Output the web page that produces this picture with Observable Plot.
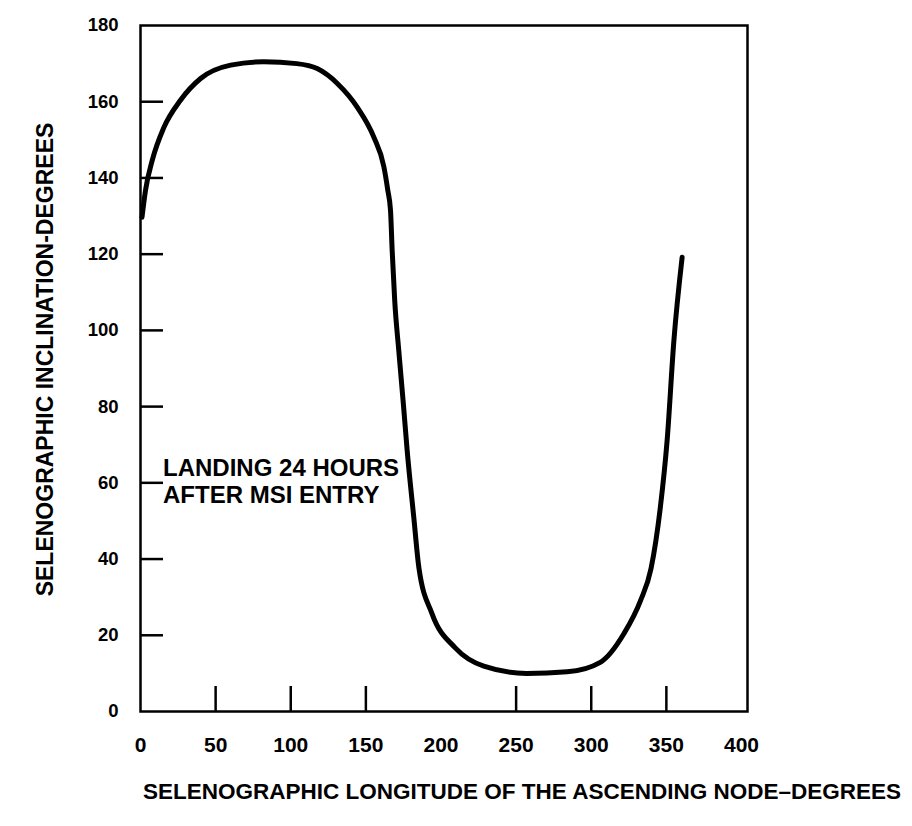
<!DOCTYPE html>
<html>
<head>
<meta charset="utf-8">
<script src="https://cdn.jsdelivr.net/npm/d3@7"></script>
<script src="https://cdn.jsdelivr.net/npm/@observablehq/plot@0.6"></script>
<style>
  html, body { margin: 0; padding: 0; background: #fff; }
  #chart svg { display: block; }
</style>
</head>
<body>
<div id="chart"></div>
<script>
// Selenographic longitude of the ascending node (degrees)
const longitude = [1, 3.3, 7.8, 15.5, 26.6, 40, 60, 82, 104, 117.6, 131, 144.2, 155.3, 162, 164.5, 166.4, 167.5, 169.2, 171.9, 175, 177.5, 181.9, 185.3, 194, 209.5, 228.5, 257, 284, 306, 321.7, 332.8, 339.8, 346, 350.5, 355, 360.5];
// Selenographic inclination (degrees)
const inclination = [129.7, 136.7, 144.6, 153.2, 160.4, 166.1, 169.6, 170.5, 170, 168.7, 164.8, 158.6, 150.7, 142.9, 137, 131.5, 121, 107.8, 94.7, 80.5, 68.4, 50.9, 37.7, 25.7, 16.7, 11.9, 10, 10.4, 12.9, 20.4, 29.1, 37.5, 53.6, 71.1, 97.3, 119.2];

const xTickLabels = [0, 50, 100, 150, 200, 250, 300, 350, 400];
const yTickLabels = [0, 20, 40, 60, 80, 100, 120, 140, 160, 180];
const xTickMarks = [50, 100, 150, 250, 300, 350];
const yTickMarks = [20, 40, 60, 80, 100, 120, 140, 160];

const xTitle = "SELENOGRAPHIC LONGITUDE OF THE ASCENDING NODE–DEGREES";
const yTitle = "SELENOGRAPHIC INCLINATION-DEGREES";
const noteText = ["LANDING 24 HOURS", "AFTER MSI ENTRY"];
const noteAt = {x: 15, y: 60.5};

const curve = longitude.map((x, i) => ({x, y: inclination[i]}));
const font = "'Liberation Sans', Arial, Helvetica, sans-serif";

const chart = Plot.plot({
  width: 912,
  height: 826,
  marginLeft: 140,
  marginRight: 165,
  marginTop: 25,
  marginBottom: 115,
  style: {fontFamily: font, color: "black", background: "white"},
  x: {domain: [0, 404], label: null},
  y: {domain: [0, 180], label: null},
  marks: [
    Plot.frame({stroke: "black", strokeWidth: 2.5}),
    Plot.tickY(yTickMarks, {y: d => d, stroke: "black", strokeWidth: 2.5, insetRight: 584}),
    Plot.tickX(xTickMarks, {x: d => d, stroke: "black", strokeWidth: 2.5, insetTop: 661}),
    Plot.axisY({ticks: yTickLabels, tickSize: 0, tickPadding: 22, fontSize: 18.5, fontWeight: "bold", label: null}),
    Plot.axisX({ticks: xTickLabels, tickSize: 0, tickPadding: 26, fontSize: 21, fontWeight: "bold", label: null}),
    Plot.line(curve, {x: "x", y: "y", stroke: "black", strokeWidth: 5, curve: "monotone-x", strokeLinecap: "round", strokeLinejoin: "round"}),
    Plot.text([noteText.join("\n")], {x: () => noteAt.x, y: () => noteAt.y, text: d => d, textAnchor: "start", lineAnchor: "middle", lineHeight: 1.13, fontSize: 24, fontWeight: "bold", fill: "black"}),
    Plot.text([xTitle], {frameAnchor: "bottom", text: d => d, textAnchor: "middle", dx: 78, dy: 80, fontSize: 22.5, fontWeight: "bold", fill: "black", lineAnchor: "middle"}),
    Plot.text([yTitle], {frameAnchor: "left", text: d => d, textAnchor: "middle", dx: -95, dy: -9, rotate: -90, fontSize: 23, fontWeight: "bold", fill: "black", lineAnchor: "middle"})
  ]
});
document.getElementById("chart").appendChild(chart);
</script>
</body>
</html>
